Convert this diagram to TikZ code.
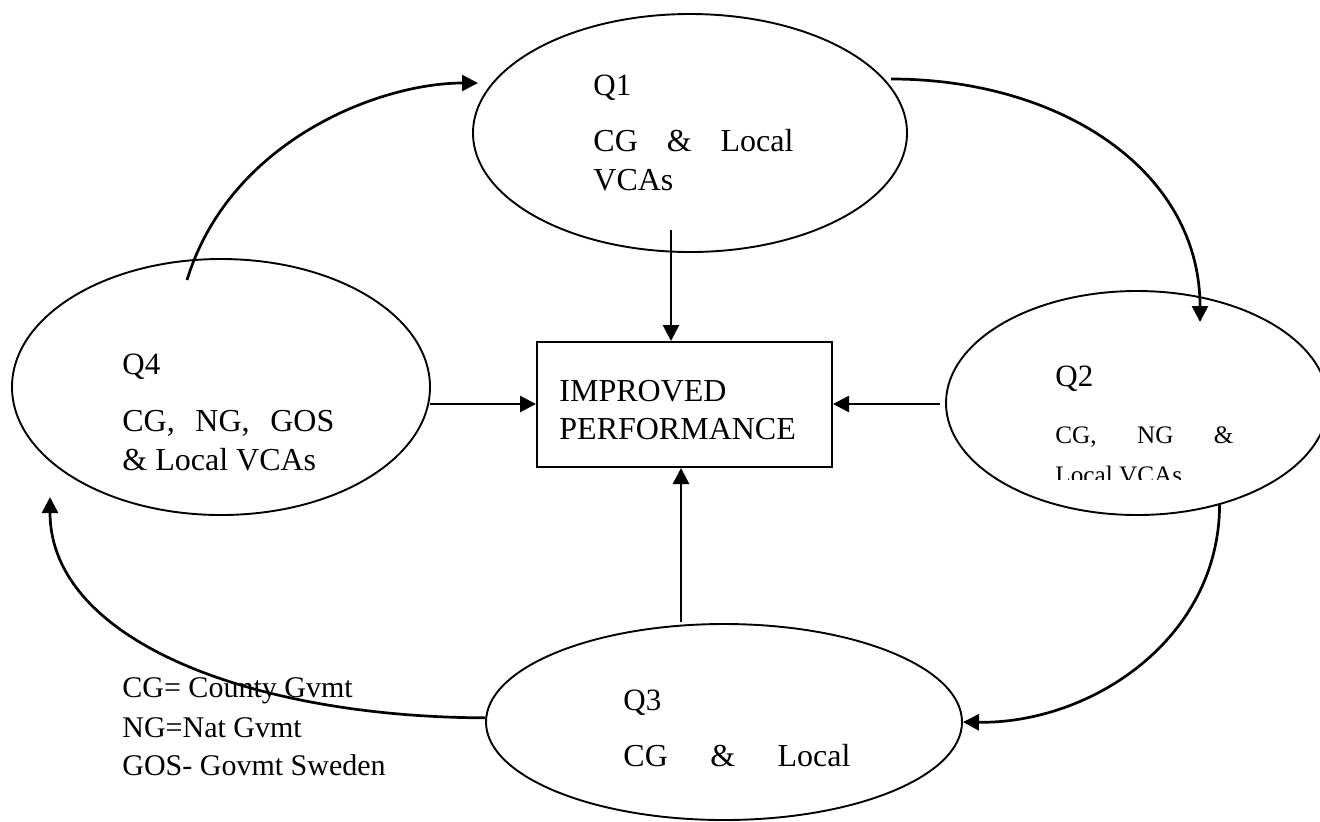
\documentclass[tikz,border=0pt]{standalone}
\usepackage{fontspec}
\setmainfont{Liberation Serif}
\usetikzlibrary{shapes.geometric,arrows.meta}
\tikzset{
  quad/.style={ellipse, draw, line width=0.95pt, inner sep=0pt},
  perfbox/.style={rectangle, draw, line width=1pt, inner sep=0pt, minimum width=147.5pt, minimum height=62.5pt},
  txt/.style={anchor=base west, inner sep=0pt, font=\fontsize{16}{19}\selectfont},
  qlab/.style={anchor=base west, inner sep=0pt, font=\fontsize{15.5}{18}\selectfont},
  smalltxt/.style={anchor=base west, inner sep=0pt, font=\fontsize{12.6}{15}\selectfont},
  legend/.style={anchor=base west, inner sep=0pt, font=\fontsize{15}{18}\selectfont},
  arr/.style={line width=1.35pt, -{Triangle[length=8pt,width=8pt]}},
}
\begin{document}
\begin{tikzpicture}[x=0.5pt,y=-0.5pt]
\useasboundingbox (0,0) rectangle (1320,821);
% ellipses
\node[quad, minimum width=217pt, minimum height=119pt] (q1) at (690,133) {};
\node[quad, minimum width=191pt, minimum height=112pt] (q2) at (1137,403) {};
\node[quad, minimum width=238pt, minimum height=98pt] (q3) at (724,722) {};
\node[quad, minimum width=209pt, minimum height=128pt] (q4) at (221,387) {};
\node[perfbox] (box) at (684.5,404.5) {};
% texts
\node[qlab] (q1a) at (593,95) {Q1};
\node[txt] (q1b) at (593,151) {\makebox[100pt][s]{CG\hfill\&\hfill Local}};
\node[txt] (q1c) at (593,190) {VCAs};
\node[qlab] (q4a) at (122,374) {Q4};
\node[txt] (q4b) at (122,431) {\makebox[106pt][s]{CG,\hfill NG,\hfill GOS}};
\node[txt] (q4c) at (122,470) {\& Local VCAs};
\node[txt] (b1) at (559,401) {IMPROVED};
\node[txt] (b2) at (559,439) {PERFORMANCE};
\node[qlab] (q2a) at (1055,386) {Q2};
\node[smalltxt] (q2b) at (1055,443) {\makebox[89pt][s]{CG,\hfill NG\hfill\&}};
\begin{scope}
\clip (1000,450) rectangle (1300,479);
\node[smalltxt] (q2c) at (1055,483) {Local VCAs};
\end{scope}
\node[qlab] (q3a) at (623,710) {Q3};
\node[txt] (q3b) at (623,766) {\makebox[113.5pt][s]{CG\hfill\&\hfill Local}};
\node[legend] (l1) at (122,697) {CG= County Gvmt};
\node[legend] (l2) at (122,737) {NG=Nat Gvmt};
\node[legend] (l3) at (122,775) {GOS- Govmt Sweden};
% connector ends
\coordinate (a1) at (187,280);
\coordinate (a2) at (478,83);
\coordinate (b1s) at (891,79);
\coordinate (b2e) at (1200,322);
\coordinate (d2) at (50,497);
\coordinate (s1) at (671,230);
\coordinate (s4) at (430,404);
\coordinate (s2) at (940,404);
\coordinate (s3) at (681,622);
% curved arrows
\draw[arr] (a1) .. controls (230,140) and (380,83) .. (a2);
\draw[arr] (b1s) .. controls (1060,79) and (1200,170) .. (b2e);
\draw[arr] (q2.309) .. controls (1219,640) and (1090,724) .. (q3.east);
\draw[arr] (q3.179) .. controls (250,717) and (50,640) .. (d2);
% straight arrows
\draw[arr] (s1) -- (box.north -| s1);
\draw[arr] (s4) -- (box.west |- s4);
\draw[arr] (s2) -- (box.east |- s2);
\draw[arr] (s3) -- (box.south -| s3);
\end{tikzpicture}
\end{document}
